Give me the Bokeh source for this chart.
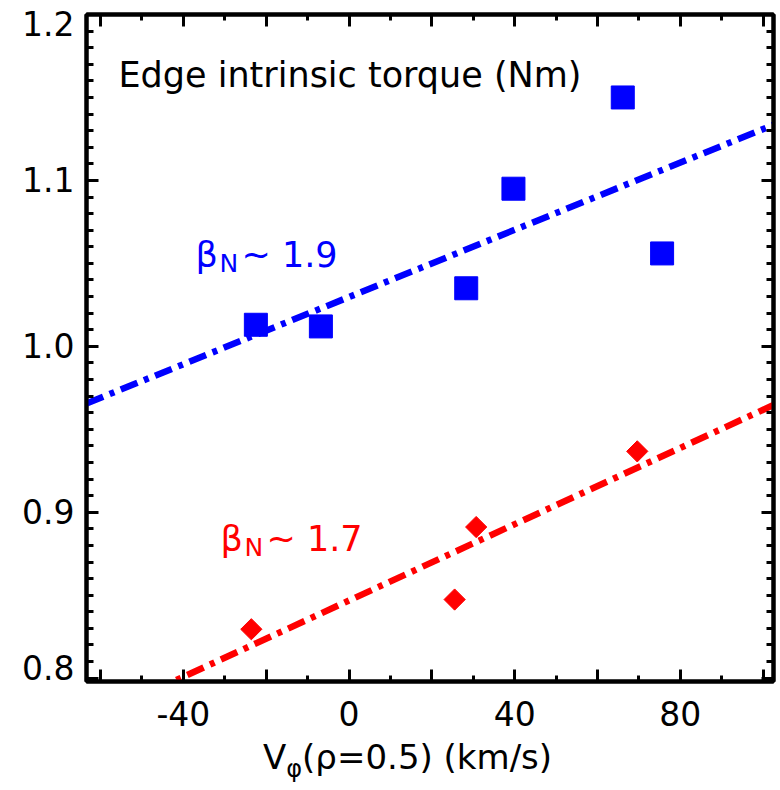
import numpy as np
from bokeh.plotting import figure
from bokeh.layouts import column
from bokeh.models import (Range1d, LinearAxis, FixedTicker, PrintfTickFormatter,
                          Label, Div)
from bokeh.embed import file_html
from bokeh.resources import INLINE

# ---------------- data ----------------
blue_v = [-22.5, -6.8, 28.3, 39.7, 66.1, 75.6]
blue_torque = [1.013, 1.012, 1.035, 1.095, 1.150, 1.056]
red_v = [-23.6, 25.5, 30.7, 69.6]
red_torque = [0.8295, 0.8474, 0.8911, 0.9367]

x_major = [-60, -40, -20, 0, 20, 40, 60, 80, 100]
x_labelled = [-40, 0, 40, 80]
x_minor = list(range(-60, 101, 10))
y_major = [0.8, 0.9, 1.0, 1.1, 1.2]
y_minor = [round(0.8 + 0.01 * i, 2) for i in range(41)]

title_text = "Edge intrinsic torque (Nm)"
blue_label = "~ 1.9"
red_label = "~ 1.7"

XMIN, XMAX = -63.4, 102.5
YMIN, YMAX = 0.798, 1.2
FONT = "DejaVu Sans"

p = figure(width=780, height=740, output_backend="svg", toolbar_location=None,
           x_range=Range1d(XMIN, XMAX), y_range=Range1d(YMIN, YMAX),
           min_border_left=86, min_border_right=7, min_border_top=14,
           min_border_bottom=59, x_axis_location=None, y_axis_location=None)
p.grid.visible = False
p.background_fill_color = "white"
p.border_fill_color = "white"
p.outline_line_color = "black"
p.outline_line_width = 4


def style_axis(ax, ticker, major_len, minor_len, labels=True):
    ax.ticker = ticker
    ax.axis_line_width = 4
    ax.axis_line_color = "black"
    ax.major_tick_in = major_len
    ax.major_tick_out = 0
    ax.minor_tick_in = minor_len
    ax.minor_tick_out = 0
    ax.major_tick_line_width = 3
    ax.minor_tick_line_width = 3
    ax.major_tick_line_color = "black"
    ax.minor_tick_line_color = "black"
    ax.major_label_text_font = FONT
    ax.major_label_text_font_size = "33px"
    ax.major_label_text_color = "black"
    if not labels:
        ax.major_label_overrides = {v: "" for v in ticker.ticks}
        ax.major_label_standoff = 0


xb = LinearAxis()
style_axis(xb, FixedTicker(ticks=x_major, minor_ticks=x_minor), 12, 6)
xb.major_label_overrides = {v: (str(v) if v in x_labelled else "") for v in x_major}
xb.major_label_standoff = 19
p.add_layout(xb, "below")

xa = LinearAxis()
style_axis(xa, FixedTicker(ticks=x_major, minor_ticks=x_minor), 12, 6, labels=False)
p.add_layout(xa, "above")

yl = LinearAxis()
style_axis(yl, FixedTicker(ticks=y_major, minor_ticks=y_minor), 12, 7)
yl.formatter = PrintfTickFormatter(format="%.1f")
# edge labels sit inside the box, as in the original
yl.major_label_overrides = {1.2: "\n1.2", 0.8: "0.8\n\n\n\n"}
yl.major_label_text_line_height = 0.12
yl.major_label_standoff = 12
p.add_layout(yl, "left")

yr = LinearAxis()
style_axis(yr, FixedTicker(ticks=y_major, minor_ticks=y_minor), 12, 7, labels=False)
p.add_layout(yr, "right")

# ---------------- fits ----------------
xs_fit = np.array([XMIN, XMAX])
bc = np.polyfit(blue_v, blue_torque, 1)
rc = np.polyfit(red_v, red_torque, 1)
p.line(xs_fit, np.polyval(bc, xs_fit), line_color="#0000ff", line_width=6.5,
       line_dash="18 7 5 7")
p.line(xs_fit, np.polyval(rc, xs_fit), line_color="#ff0000", line_width=6.5,
       line_dash="18 7 5 7")

# ---------------- points ----------------
p.scatter(blue_v, blue_torque, marker="square", size=23, fill_color="#0000ff",
          line_color="#0000ff", line_width=1)
p.scatter(red_v, red_torque, marker="square", size=15, angle=np.pi / 4,
          fill_color="#ff0000", line_color="#ff0000", line_width=1)

# ---------------- texts ----------------
def lab(x, y, text, color="black", size="35px"):
    p.add_layout(Label(x=x, y=y, text=text, text_font=FONT, text_font_size=size,
                       text_color=color, text_align="left",
                       text_baseline="alphabetic"))


def px2x(px):
    return XMIN + (px - 86) * (XMAX - XMIN) / (773 - 86)


def py2y(py):
    return YMAX - (py - 14) * (YMAX - YMIN) / (681 - 14)


lab(px2x(118), py2y(74), title_text)

lab(px2x(195), py2y(254), "β", "#0000ff")
lab(px2x(219), py2y(263), "N", "#0000ff", "25px")
lab(px2x(241), py2y(254), blue_label, "#0000ff")

lab(px2x(220), py2y(538), "β", "#ff0000")
lab(px2x(244), py2y(547), "N", "#ff0000", "25px")
lab(px2x(266), py2y(538), red_label, "#ff0000")

xlabel = Div(
    text='<div style="position:absolute; left:263px; top:0px; white-space:nowrap;'
         ' font-family:\'DejaVu Sans\'; font-size:34px; line-height:1; color:black;">'
         'V<sub style="font-size:24px; vertical-align:-8px; line-height:0;">φ</sub>'
         '(ρ=0.5) (km/s)</div>',
    width=780, height=50, margin=0,
    styles={"position": "relative", "overflow": "visible"})

layout = column(p, xlabel, spacing=0)

open("out.html", "w").write(file_html(layout, INLINE))
